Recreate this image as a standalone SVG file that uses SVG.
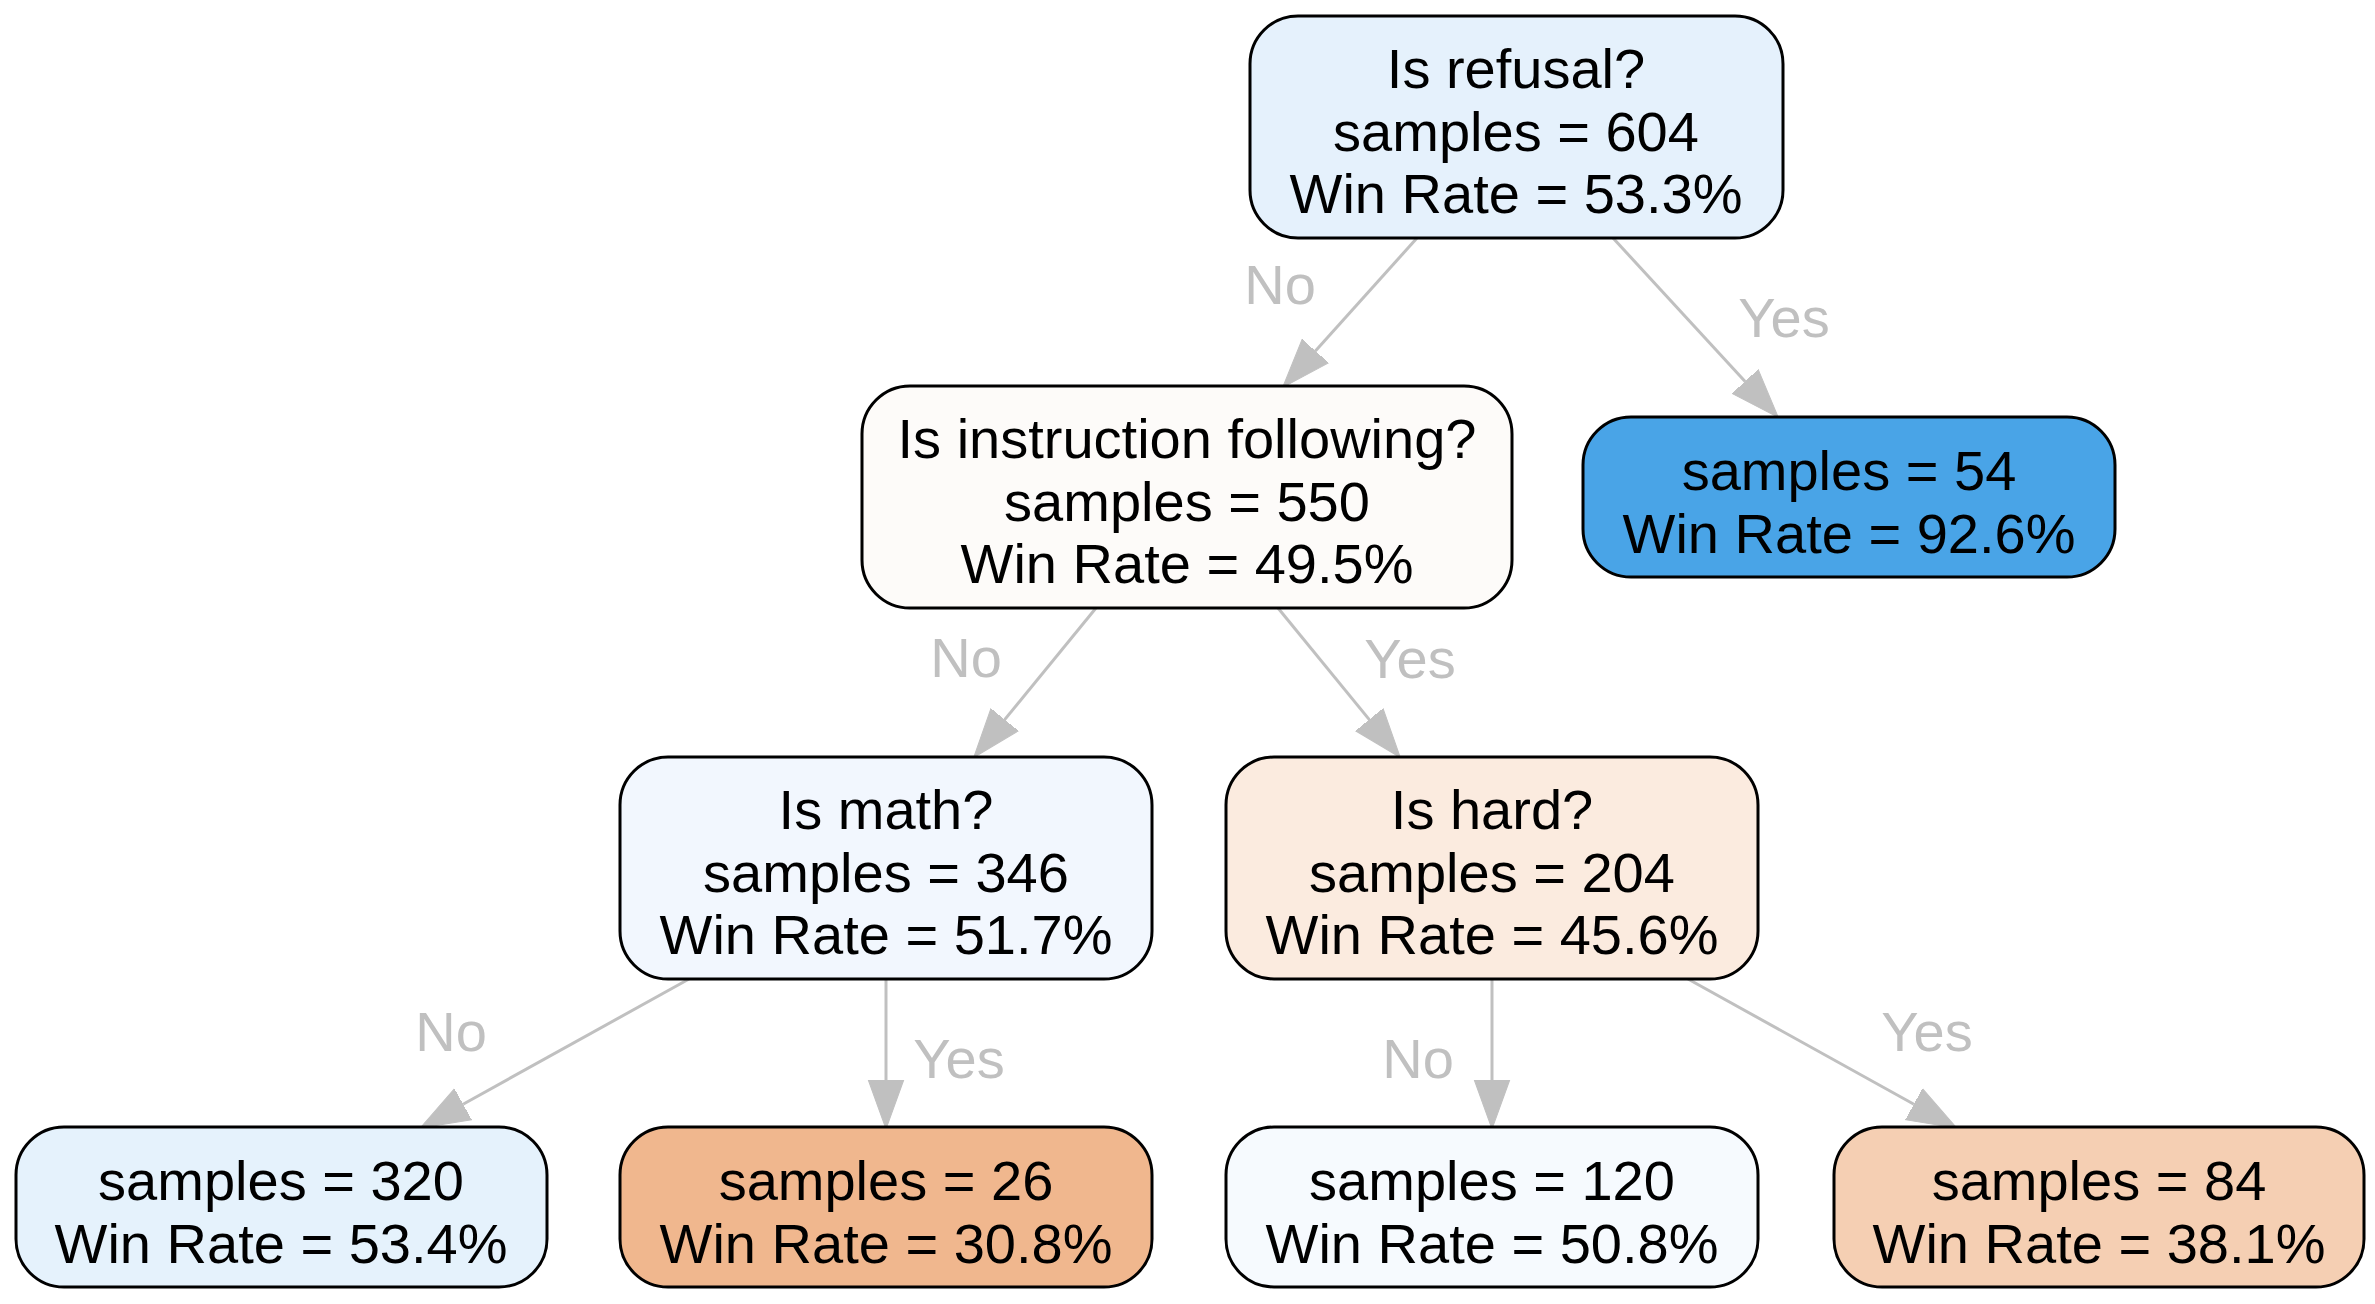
<svg xmlns="http://www.w3.org/2000/svg" width="2375" height="1304" viewBox="0 0 2375 1304">
<style>
.node rect{stroke:#000;stroke-width:3}
.node text{font-family:"Liberation Sans",Arial,Helvetica,sans-serif;font-size:56px;fill:#000;text-anchor:middle}
.edges line{stroke:#c0c0c0;stroke-width:3;fill:none}
.edges text{font-family:"Liberation Sans",Arial,Helvetica,sans-serif;font-size:56px;fill:#c0c0c0;text-anchor:middle}
</style>
<defs>
<marker id="arr" markerUnits="userSpaceOnUse" markerWidth="50" markerHeight="40" viewBox="0 -18 48 36" refX="0" refY="0" orient="auto">
<path d="M0,-17 L47,0 L0,17 Z" fill="#c0c0c0" stroke="#c0c0c0" stroke-width="1"/>
</marker>
</defs>
<rect width="2375" height="1304" fill="#fff"/>
<g class="edges">
<line x1="1417" y1="238" x2="1315.4" y2="351" marker-end="url(#arr)"/>
<text x="1280" y="304">No</text>
<line x1="1613" y1="238" x2="1745.1" y2="381.4" marker-end="url(#arr)"/>
<text x="1784" y="337">Yes</text>
<line x1="1096" y1="608" x2="1004.7" y2="719.6" marker-end="url(#arr)"/>
<text x="966" y="677">No</text>
<line x1="1278" y1="608" x2="1369.3" y2="719.6" marker-end="url(#arr)"/>
<text x="1410" y="678">Yes</text>
<line x1="689" y1="979" x2="463.1" y2="1104.2" marker-end="url(#arr)"/>
<text x="451" y="1051">No</text>
<line x1="886" y1="979" x2="886" y2="1080" marker-end="url(#arr)"/>
<text x="959" y="1078">Yes</text>
<line x1="1492" y1="979" x2="1492" y2="1080" marker-end="url(#arr)"/>
<text x="1418" y="1078">No</text>
<line x1="1688" y1="979" x2="1913.9" y2="1104.2" marker-end="url(#arr)"/>
<text x="1927" y="1051">Yes</text>
</g>
<g id="node-root" class="node">
<rect x="1250" y="16" width="533" height="222" rx="48" fill="#e5f1fc"/>
<text x="1516" y="88">Is refusal?</text>
<text x="1516" y="151">samples = 604</text>
<text x="1516" y="213">Win Rate = 53.3%</text>
</g>
<g id="node-instruction" class="node">
<rect x="862" y="386" width="650" height="222" rx="48" fill="#fdfbf9"/>
<text x="1187" y="458">Is instruction following?</text>
<text x="1187" y="521">samples = 550</text>
<text x="1187" y="583">Win Rate = 49.5%</text>
</g>
<g id="node-leaf54" class="node">
<rect x="1583" y="417" width="532" height="160" rx="48" fill="#49a4e7"/>
<text x="1849" y="490">samples = 54</text>
<text x="1849" y="553">Win Rate = 92.6%</text>
</g>
<g id="node-math" class="node">
<rect x="620" y="757" width="532" height="222" rx="48" fill="#f2f7fe"/>
<text x="886" y="829">Is math?</text>
<text x="886" y="892">samples = 346</text>
<text x="886" y="954">Win Rate = 51.7%</text>
</g>
<g id="node-hard" class="node">
<rect x="1226" y="757" width="532" height="222" rx="48" fill="#fbebdf"/>
<text x="1492" y="829">Is hard?</text>
<text x="1492" y="892">samples = 204</text>
<text x="1492" y="954">Win Rate = 45.6%</text>
</g>
<g id="node-leaf320" class="node">
<rect x="16" y="1127" width="531" height="160" rx="48" fill="#e5f2fc"/>
<text x="281" y="1200">samples = 320</text>
<text x="281" y="1263">Win Rate = 53.4%</text>
</g>
<g id="node-leaf26" class="node">
<rect x="620" y="1127" width="532" height="160" rx="48" fill="#f0b78e"/>
<text x="886" y="1200">samples = 26</text>
<text x="886" y="1263">Win Rate = 30.8%</text>
</g>
<g id="node-leaf120" class="node">
<rect x="1226" y="1127" width="532" height="160" rx="48" fill="#f6fafe"/>
<text x="1492" y="1200">samples = 120</text>
<text x="1492" y="1263">Win Rate = 50.8%</text>
</g>
<g id="node-leaf84" class="node">
<rect x="1834" y="1127" width="530" height="160" rx="48" fill="#f5cfb3"/>
<text x="2099" y="1200">samples = 84</text>
<text x="2099" y="1263">Win Rate = 38.1%</text>
</g>
</svg>
